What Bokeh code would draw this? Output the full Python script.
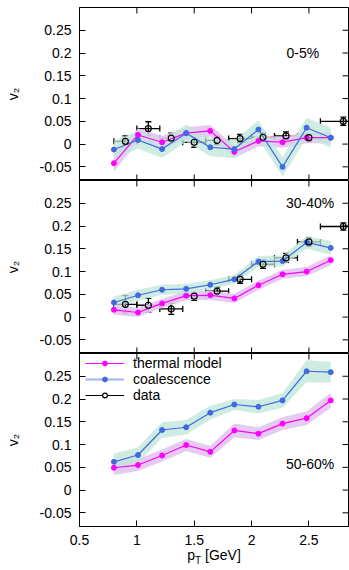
import numpy as np
from bokeh.plotting import figure
from bokeh.models import (Range1d, FixedTicker, NumeralTickFormatter, Whisker,
                          TeeHead, ColumnDataSource, Label, Legend, LegendItem, Div)
from bokeh.layouts import column
from bokeh.embed import file_html
from bokeh.resources import INLINE

# ---------------- data ----------------
pt_model = [0.80, 1.01, 1.22, 1.43, 1.64, 1.85, 2.06, 2.27, 2.48, 2.69]
pt_data = [0.9, 1.1, 1.3, 1.5, 1.7, 1.9, 2.1, 2.3, 2.5, 2.8]
pt_data_err = [0.1, 0.1, 0.1, 0.1, 0.1, 0.1, 0.1, 0.1, 0.1, 0.2]

x_ticks = [0.5, 1.0, 1.5, 2.0, 2.5]
y_ticks = [-0.05, 0.0, 0.05, 0.1, 0.15, 0.2, 0.25]

centralities = ["0-5%", "30-40%", "50-60%"]
series_names = ["thermal model", "coalescence", "data"]

thermal_0_5 = [-0.042, 0.020, 0.004, 0.024, 0.029, -0.017, 0.007, 0.004, 0.014, 0.014]
thermal_0_5_err = [0.018, 0.015, 0.014, 0.013, 0.013, 0.013, 0.012, 0.012, 0.012, 0.012]
coal_0_5 = [-0.012, 0.009, -0.011, 0.024, -0.007, -0.011, 0.032, -0.050, 0.036, 0.014]
coal_0_5_err = [0.020, 0.019, 0.019, 0.019, 0.020, 0.020, 0.020, 0.021, 0.022, 0.022]
data_0_5 = [0.006, 0.034, 0.013, 0.004, 0.008, 0.012, 0.015, 0.018, 0.014, 0.050]
data_0_5_err = [0.012, 0.015, 0.011, 0.011, 0.009, 0.009, 0.009, 0.009, 0.009, 0.009]

thermal_30_40 = [0.016, 0.010, 0.030, 0.047, 0.048, 0.041, 0.070, 0.094, 0.100, 0.125]
thermal_30_40_err = [0.011, 0.010, 0.010, 0.010, 0.010, 0.010, 0.010, 0.010, 0.010, 0.011]
coal_30_40 = [0.032, 0.048, 0.060, 0.062, 0.071, 0.083, 0.122, 0.123, 0.164, 0.152]
coal_30_40_err = [0.013, 0.012, 0.011, 0.011, 0.010, 0.010, 0.012, 0.012, 0.014, 0.015]
data_30_40 = [0.028, 0.026, 0.018, 0.046, 0.057, 0.083, 0.116, 0.130, 0.165, 0.199]
data_30_40_err = [0.019, 0.015, 0.012, 0.009, 0.009, 0.009, 0.009, 0.010, 0.009, 0.008]

thermal_50_60 = [0.049, 0.055, 0.076, 0.099, 0.084, 0.131, 0.124, 0.146, 0.158, 0.197]
thermal_50_60_err = [0.016, 0.013, 0.013, 0.013, 0.013, 0.015, 0.014, 0.014, 0.015, 0.016]
coal_50_60 = [0.062, 0.077, 0.132, 0.138, 0.170, 0.188, 0.183, 0.197, 0.261, 0.259]
coal_50_60_err = [0.018, 0.017, 0.017, 0.016, 0.015, 0.012, 0.015, 0.016, 0.024, 0.023]

# ---------------- style ----------------
FONT = "Liberation Sans"
MAGENTA = "#ff00ff"
BLUE = "#4169e1"
TH_BAND = "#e2c4f1"
CO_BAND = "#bfe6d9"
FRAME_W, FRAME_H = 269, 173
X0, X1 = 0.5, 2.845
Y0, Y1 = -0.08, 0.30
TICK_PX = 6


def style_axis(ax):
    ax.major_tick_in = TICK_PX
    ax.major_tick_out = 0
    ax.minor_tick_line_color = None
    ax.axis_line_color = "black"
    ax.major_tick_line_color = "black"
    ax.major_label_text_font = FONT
    ax.major_label_text_font_size = "14px"
    ax.major_label_text_color = "black"


def make_panel(label, thermal, thermal_err, coal, coal_err, data=None, data_err=None,
               top=False, bottom=False, label_pos=(2.72, 0.2)):
    p = figure(frame_width=FRAME_W, frame_height=FRAME_H,
               x_range=Range1d(X0, X1), y_range=Range1d(Y0, Y1),
               output_backend="svg", toolbar_location=None,
               min_border_left=79, min_border_right=1,
               min_border_top=7 if top else 0, min_border_bottom=20 if bottom else 0,
               outline_line_color="black", background_fill_color="white")
    p.grid.visible = False

    # left axis with labels
    for ax in p.yaxis:
        style_axis(ax)
        ax.ticker = FixedTicker(ticks=y_ticks)
        ax.formatter = NumeralTickFormatter(format="0.[00]")
        ax.major_label_standoff = 8
        ax.axis_label = "v₂"
        ax.axis_label_text_font = FONT
        ax.axis_label_text_font_size = "14px"
        ax.axis_label_text_font_style = "normal"
        ax.axis_label_text_color = "black"
        ax.axis_label_standoff = 16
    # bottom axis: labels only on the lowest panel
    if bottom:
        for ax in p.xaxis:
            style_axis(ax)
            ax.ticker = FixedTicker(ticks=x_ticks)
            ax.formatter = NumeralTickFormatter(format="0.[0]")
            ax.major_label_standoff = 8
    else:
        p.xaxis.visible = False

    # mirror ticks (inward) on the remaining frame sides
    tx = TICK_PX * (X1 - X0) / FRAME_W
    ty = TICK_PX * (Y1 - Y0) / FRAME_H
    nx = len(x_ticks)
    ny = len(y_ticks)
    p.segment(x0=x_ticks, y0=[Y1] * nx, x1=x_ticks, y1=[Y1 - ty] * nx,
              line_color="black", line_width=1)
    if not bottom:
        p.segment(x0=x_ticks, y0=[Y0] * nx, x1=x_ticks, y1=[Y0 + ty] * nx,
                  line_color="black", line_width=1)
    p.segment(x0=[X1] * ny, y0=y_ticks, x1=[X1 - tx] * ny, y1=y_ticks,
              line_color="black", line_width=1)

    th = np.array(thermal)
    the = np.array(thermal_err)
    co = np.array(coal)
    coe = np.array(coal_err)

    p.varea(x=pt_model, y1=th - the, y2=th + the, fill_color=TH_BAND, fill_alpha=0.9)
    p.varea(x=pt_model, y1=co - coe, y2=co + coe, fill_color=CO_BAND, fill_alpha=0.75)

    p.line(pt_model, thermal, line_color=MAGENTA, line_width=1.2)
    p.scatter(pt_model, thermal, size=5, fill_color=MAGENTA, line_color=MAGENTA)
    p.line(pt_model, coal, line_color=BLUE, line_width=1.2)
    p.scatter(pt_model, coal, size=5, fill_color=BLUE, line_color=BLUE)

    if data is not None:
        d = np.array(data)
        de = np.array(data_err)
        x = np.array(pt_data)
        xe = np.array(pt_data_err)
        src = ColumnDataSource(dict(x=x, y=d, yl=d - de, yu=d + de, xl=x - xe, xu=x + xe))
        for base, lo, hi, dim in (("x", "yl", "yu", "height"), ("y", "xl", "xu", "width")):
            p.add_layout(Whisker(source=src, base=base, lower=lo, upper=hi, dimension=dim,
                                 line_color="black", line_width=1.3,
                                 lower_head=TeeHead(size=6, line_width=1.3, line_color="black"),
                                 upper_head=TeeHead(size=6, line_width=1.3, line_color="black")))
        p.scatter("x", "y", source=src, marker="circle", size=6, fill_color=None,
                  line_color="black", line_width=1.2)

    p.add_layout(Label(x=label_pos[0], y=label_pos[1], text=label, text_font=FONT,
                       text_font_size="14px", text_align="right", text_baseline="middle",
                       text_color="black"))
    return p


p1 = make_panel(centralities[0], thermal_0_5, thermal_0_5_err, coal_0_5, coal_0_5_err,
                data_0_5, data_0_5_err, top=True, label_pos=(2.59, 0.2))
p2 = make_panel(centralities[1], thermal_30_40, thermal_30_40_err, coal_30_40, coal_30_40_err,
                data_30_40, data_30_40_err, label_pos=(2.72, 0.25))
p3 = make_panel(centralities[2], thermal_50_60, thermal_50_60_err, coal_50_60, coal_50_60_err,
                bottom=True, label_pos=(2.72, 0.057))

# legend (legend-only renderers, NaN data so nothing is drawn in the frame)
nan = [np.nan]
l_th_line = p3.line(nan, nan, line_color=MAGENTA, line_width=1.2)
l_th_pt = p3.scatter(nan, nan, size=5, fill_color=MAGENTA, line_color=MAGENTA)
l_co_line = p3.line(nan, nan, line_color=BLUE, line_alpha=0.5, line_width=2)
l_co_pt = p3.scatter(nan, nan, size=5, fill_color=BLUE, line_color=BLUE)
l_da_line = p3.line(nan, nan, line_color="black", line_width=1.2)
l_da_pt = p3.scatter(nan, nan, marker="circle", size=5, fill_color="white",
                     line_color="black", line_width=1.2)
legend = Legend(items=[LegendItem(label=series_names[0], renderers=[l_th_line, l_th_pt]),
                       LegendItem(label=series_names[1], renderers=[l_co_line, l_co_pt]),
                       LegendItem(label=series_names[2], renderers=[l_da_line, l_da_pt])],
                location=(6, 123), padding=0, margin=0, spacing=0,
                glyph_width=39, glyph_height=12, label_height=12, label_standoff=9,
                label_text_font=FONT, label_text_font_size="14px", label_text_color="black",
                background_fill_alpha=0, border_line_color=None)
p3.add_layout(legend)

# x-axis title with subscript (real HTML text)
xtitle = Div(text='p<sub style="font-size:10px; line-height:0">T</sub> [GeV]',
             width=349, height=20, margin=0,
             styles={"font-family": FONT, "font-size": "14px", "color": "black",
                     "text-align": "center", "padding-left": "79px",
                     "box-sizing": "border-box", "line-height": "16px"})

layout = column(p1, p2, p3, xtitle, spacing=0)
open("out.html", "w").write(file_html(layout, INLINE))
